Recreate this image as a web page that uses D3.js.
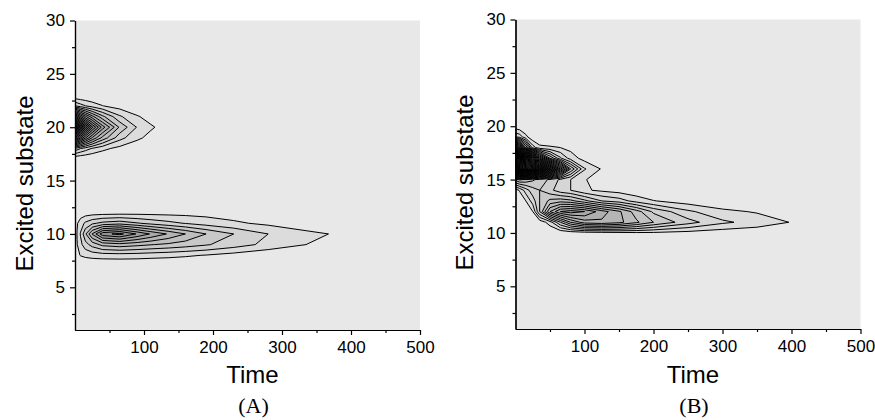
<!DOCTYPE html>
<html>
<head>
<meta charset="utf-8">
<script src="https://cdn.jsdelivr.net/npm/d3@7"></script>
<style>
  body { margin: 0; background: #ffffff; }
  text { fill: #000; }
</style>
</head>
<body>
<svg id="chart" width="875" height="420"></svg>
<script>
// Axis ticks
const timeMajorTicks = [100, 200, 300, 400, 500];
const timeMinorTicks = [50, 150, 250, 350, 450];
const substateMajorTicks = [5, 10, 15, 20, 25, 30];
const substateMinorTicks = [2.5, 7.5, 12.5, 17.5, 22.5, 27.5];

// Panel A: population of each excited substate over time (rows = substates, columns = times)
const timesA = [0, 3, 8, 15, 25, 40, 65, 90, 110, 135, 160, 190, 230, 280, 370, 450, 500];
const substatesA = [6, 7, 8, 9, 10, 11, 12, 13, 14, 15, 16, 17, 18, 19, 20, 21, 22, 23, 24];
const gridA = [
  [0, 0, 0, 0, 0, 0, 0, 0, 0, 0, 0, 0, 0, 0, 0, 0, 0],
  [0, 0, 0, 0, 0, 0, 0, 0, 0, 0, 0, 0, 0, 0, 0, 0, 0],
  [0, 0.75, 1.05, 1.25, 1.4, 1.5, 1.55, 1.5, 1.4, 1.3, 1.15, 0.95, 0.6, 0.2, 0, 0, 0],
  [0, 0.95, 1.7, 2.6, 3.4, 4.3, 4.6, 4.3, 4.05, 3.8, 3.5, 3.1, 2.5, 1.7, 0.55, 0, 0],
  [0, 1.05, 2.1, 3.8, 6.1, 8.65, 9.3, 7.9, 6.9, 5.9, 5.0, 4.0, 3.0, 2.0, 0.97, 0, 0],
  [0, 0.9, 1.5, 2.2, 2.8, 3.3, 3.6, 3.1, 2.7, 2.3, 1.95, 1.56, 1.17, 0.78, 0.38, 0, 0],
  [0, 0.3, 0.4, 0.45, 0.5, 0.52, 0.55, 0.6, 0.62, 0.63, 0.64, 0.62, 0.5, 0.25, 0, 0, 0],
  [0, 0, 0, 0, 0, 0, 0, 0, 0, 0, 0, 0, 0, 0, 0, 0, 0],
  [0, 0, 0, 0, 0, 0, 0, 0, 0, 0, 0, 0, 0, 0, 0, 0, 0],
  [0, 0, 0, 0, 0, 0, 0, 0, 0, 0, 0, 0, 0, 0, 0, 0, 0],
  [0, 0, 0, 0, 0, 0, 0, 0, 0, 0, 0, 0, 0, 0, 0, 0, 0],
  [0, 0, 0, 0, 0, 0, 0, 0, 0, 0, 0, 0, 0, 0, 0, 0, 0],
  [3.74, 3.45, 3.0, 2.5, 1.9, 1.28, 0.65, 0.33, 0.19, 0.1, 0.05, 0.02, 0, 0, 0, 0, 0],
  [13.6, 12.6, 11.0, 9.1, 6.9, 4.65, 2.36, 1.2, 0.7, 0.35, 0.18, 0.08, 0.02, 0, 0, 0, 0],
  [22, 20.3, 17.7, 14.7, 11.2, 7.5, 3.8, 1.93, 1.13, 0.57, 0.29, 0.13, 0.04, 0, 0, 0, 0],
  [12.5, 11.5, 10.0, 8.3, 6.35, 4.25, 2.15, 1.09, 0.64, 0.32, 0.16, 0.07, 0.02, 0, 0, 0, 0],
  [3.04, 2.8, 2.44, 2.03, 1.55, 1.03, 0.52, 0.27, 0.16, 0.08, 0.04, 0.02, 0, 0, 0, 0, 0],
  [0, 0, 0, 0, 0, 0, 0, 0, 0, 0, 0, 0, 0, 0, 0, 0, 0],
  [0, 0, 0, 0, 0, 0, 0, 0, 0, 0, 0, 0, 0, 0, 0, 0, 0]
];

// Panel B
const timesB = [0, 6, 15, 25, 35, 50, 65, 80, 100, 125, 150, 175, 200, 250, 300, 350, 400, 450, 500];
const substatesB = [9, 10, 11, 12, 13, 14, 15, 16, 17, 18, 19, 20, 21];
const gridB = [
  [0, 0, 0, 0, 0, 0, 0, 0, 0, 0, 0, 0, 0, 0, 0, 0, 0, 0, 0],
  [0, 0, 0, 0, 0, 0, 0.1, 0.3, 0.5, 0.6, 0.7, 0.8, 0.8, 0.6, 0.4, 0.3, 0.1, 0, 0],
  [0, 0, 0, 0, 0.3, 1.5, 4, 6, 7.5, 7.8, 7.3, 6.2, 5, 3.4, 2.2, 1.6, 0.95, 0.2, 0],
  [0, 0, 0.2, 1, 4, 8, 10, 10.5, 10, 8.5, 7.2, 5.5, 3.8, 2.2, 1.25, 0.9, 0.4, 0.1, 0],
  [0, 0.3, 1, 2.5, 4, 5.3, 5.6, 5.3, 4.3, 3, 2.5, 1.6, 1.05, 0.49, 0.2, 0, 0, 0, 0],
  [0.5, 1.1, 2.5, 3.6, 4, 3.3, 2.4, 2, 1.15, 0.8, 0.55, 0.3, 0, 0, 0, 0, 0, 0, 0],
  [5.5, 6.2, 5.8, 5.2, 4.6, 3.8, 2.8, 2.0, 1.1, 0.3, 0, 0, 0, 0, 0, 0, 0, 0, 0],
  [30, 33, 31, 28, 24, 18, 12, 6, 2.1, 0.9, 0.3, 0, 0, 0, 0, 0, 0, 0, 0],
  [33, 34, 26, 18, 11, 6, 3.2, 1.5, 0.6, 0.2, 0, 0, 0, 0, 0, 0, 0, 0, 0],
  [16, 13, 7, 2.5, 1.3, 1.15, 1.0, 0.7, 0.25, 0, 0, 0, 0, 0, 0, 0, 0, 0, 0],
  [3, 2.6, 1.3, 0.2, 0, 0, 0, 0, 0, 0, 0, 0, 0, 0, 0, 0, 0, 0, 0],
  [0.3, 0.2, 0, 0, 0, 0, 0, 0, 0, 0, 0, 0, 0, 0, 0, 0, 0, 0, 0],
  [0, 0, 0, 0, 0, 0, 0, 0, 0, 0, 0, 0, 0, 0, 0, 0, 0, 0, 0]
];

const panelLabels = ["(A)", "(B)"];
const xTitle = "Time";
const yTitle = "Excited substate";

// Layout of the two panels
const layout = [
  { left: 75, top: 20.5 },
  { left: 515.5, top: 19.5 }
];
const plotW = 345, plotH = 309.5;

const panels = [
  { times: timesA, substates: substatesA, grid: gridA, label: panelLabels[0] },
  { times: timesB, substates: substatesB, grid: gridB, label: panelLabels[1] }
];

const svg = d3.select("#chart");

panels.forEach((p, k) => {
  const { left, top } = layout[k];
  const g = svg.append("g").attr("transform", `translate(${left},${top})`);

  const x = d3.scaleLinear().domain([0, 500]).range([0, plotW]);
  const y = d3.scaleLinear().domain([1, 30]).range([plotH, 0]);

  // grid index -> data coordinates
  const n = p.times.length, m = p.substates.length;
  const tOf = d3.scaleLinear().domain(d3.range(n)).range(p.times).clamp(true);
  const sOf = d3.scaleLinear().domain(d3.range(m)).range(p.substates).clamp(true);

  const values = p.grid.flat();
  const maxLevel = Math.floor(d3.max(values));
  const thresholds = d3.range(1, maxLevel + 1);
  const shade = d3.scaleLinear().domain([1, maxLevel]).range([220, 8]);

  const contours = d3.contours().size([n, m]).thresholds(thresholds)(values);
  const proj = d3.geoTransform({
    point: function (px, py) {
      this.stream.point(x(tOf(px - 0.5)), y(sOf(py - 0.5)));
    }
  });
  const path = d3.geoPath(proj);

  const clipId = "clip" + k;
  g.append("clipPath").attr("id", clipId)
    .append("rect").attr("width", plotW).attr("height", plotH);

  g.append("rect")
    .attr("width", plotW).attr("height", plotH)
    .attr("fill", "#e8e8e8");

  g.append("g").attr("clip-path", `url(#${clipId})`)
    .selectAll("path")
    .data(contours)
    .join("path")
    .attr("d", path)
    .attr("fill", d => { const v = Math.round(shade(d.value)); return `rgb(${v},${v},${v})`; })
    .attr("stroke", "#000")
    .attr("stroke-width", 1)
    .attr("stroke-linejoin", "round");

  // axes
  const font = "'Liberation Sans', Arial, Helvetica, sans-serif";
  const xMinor = d3.axisBottom(x).tickValues(timeMinorTicks).tickSize(3).tickSizeOuter(0).tickFormat("");
  const xMajor = d3.axisBottom(x).tickValues(timeMajorTicks).tickSize(5).tickSizeOuter(0).tickPadding(6);
  const yMinor = d3.axisLeft(y).tickValues(substateMinorTicks).tickSize(3).tickSizeOuter(0).tickFormat("");
  const yMajor = d3.axisLeft(y).tickValues(substateMajorTicks).tickSize(5).tickSizeOuter(0).tickPadding(5);

  [xMinor, xMajor].forEach(ax => {
    g.append("g").attr("transform", `translate(0,${plotH})`).call(ax)
      .call(s => s.selectAll("text").attr("font-family", font).attr("font-size", 17).attr("fill", "#000"))
      .call(s => s.selectAll("line,path").attr("stroke", "#000").attr("stroke-width", 1.2));
  });
  [yMinor, yMajor].forEach(ax => {
    g.append("g").call(ax)
      .call(s => s.selectAll("text").attr("font-family", font).attr("font-size", 17).attr("fill", "#000"))
      .call(s => s.selectAll("line,path").attr("stroke", "#000").attr("stroke-width", 1.2));
  });

  g.append("text")
    .attr("x", plotW / 2 + 5).attr("y", 383 - top)
    .attr("text-anchor", "middle")
    .attr("font-family", font).attr("font-size", 24)
    .text(xTitle);

  g.append("text")
    .attr("transform", `translate(-42.5,${163}) rotate(-90)`)
    .attr("text-anchor", "middle")
    .attr("font-family", font).attr("font-size", 24)
    .text(yTitle);

  g.append("text")
    .attr("x", plotW / 2 + 6).attr("y", 413 - top)
    .attr("text-anchor", "middle")
    .attr("font-family", "'Liberation Serif', 'Times New Roman', serif").attr("font-size", 22)
    .text(p.label);
});
</script>
</body>
</html>
